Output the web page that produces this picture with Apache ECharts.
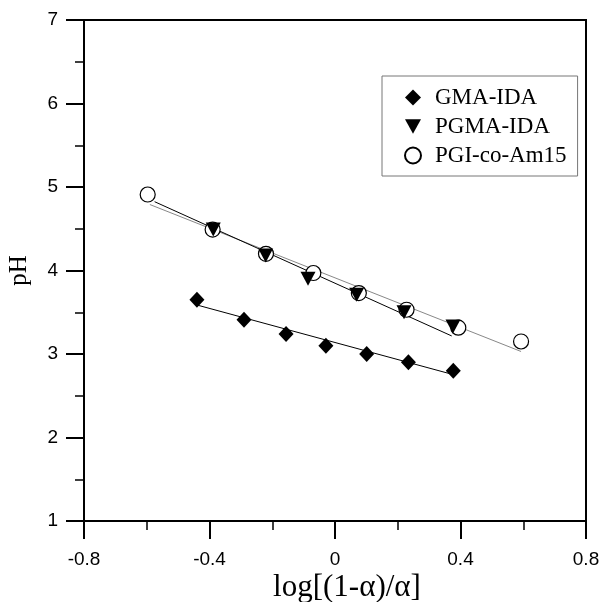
<!DOCTYPE html>
<html>
<head>
<meta charset="utf-8">
<script src="https://cdn.jsdelivr.net/npm/echarts@6/dist/echarts.min.js"></script>
<style>html,body{margin:0;padding:0;background:#fff}#c{width:602px;height:602px}</style>
</head>
<body>
<div id="c"></div>
<script>
var xTicks = [-0.8, -0.4, 0, 0.4, 0.8];
var yTicks = [1, 2, 3, 4, 5, 6, 7];

var gmaX = [-0.44, -0.29, -0.156, -0.029, 0.101, 0.234, 0.377];
var gmaY = [3.65, 3.41, 3.24, 3.10, 3.00, 2.90, 2.80];

var pgmaX = [-0.388, -0.221, -0.086, 0.069, 0.22, 0.376];
var pgmaY = [4.49, 4.18, 3.90, 3.71, 3.50, 3.33];

var pgiX = [-0.597, -0.39, -0.22, -0.069, 0.076, 0.228, 0.393, 0.593];
var pgiY = [4.91, 4.49, 4.20, 3.97, 3.73, 3.53, 3.315, 3.15];

var gmaFitX = [-0.44, 0.38];
var gmaFitY = [3.587, 2.75];
var pgmaFitX = [-0.575, 0.372];
var pgmaFitY = [4.824, 3.216];
var pgiFitX = [-0.59, 0.593];
var pgiFitY = [4.79, 3.03];

function pairs(xs, ys) { return xs.map(function (x, i) { return [x, ys[i]]; }); }

var downTri = 'path://M0,0 L10,0 L5,9 Z';

var chart = echarts.init(document.getElementById('c'));
var axisCommon = {
  axisLine: { show: true, onZero: false, lineStyle: { color: '#000', width: 2 } },
  axisTick: { show: true, inside: false, length: 18, lineStyle: { color: '#000', width: 2 } },
  minorTick: { show: true, splitNumber: 2, length: 9, lineStyle: { color: '#000', width: 1.5 } },
  splitLine: { show: false },
  minorSplitLine: { show: false }
};
chart.setOption({
  animation: false,
  backgroundColor: '#fff',
  grid: { left: 84, right: 16, top: 20, bottom: 81, containLabel: false, outerBoundsMode: 'none',
    show: true, borderColor: '#000', borderWidth: 2, backgroundColor: 'transparent' },
  xAxis: Object.assign({
    type: 'value', min: xTicks[0], max: xTicks[xTicks.length - 1], interval: 0.4,
    name: 'log[(1-α)/α]', nameLocation: 'middle', nameGap: 51, nameMoveOverlap: false,
    nameTextStyle: { fontFamily: 'Liberation Serif', fontSize: 31, color: '#000', padding: [0, 0, 0, 24] },
    axisLabel: { margin: 29, fontFamily: 'Liberation Sans', fontSize: 19, color: '#000',
      formatter: function (v) { return String(Math.round(v * 10) / 10); } }
  }, axisCommon),
  yAxis: Object.assign({
    type: 'value', min: yTicks[0], max: yTicks[yTicks.length - 1], interval: 1,
    name: 'pH', nameLocation: 'middle', nameGap: 52, nameRotate: 90, nameMoveOverlap: false,
    nameTextStyle: { fontFamily: 'Liberation Serif', fontSize: 25, color: '#000' },
    axisLabel: { margin: 26, fontFamily: 'Liberation Sans', fontSize: 19, color: '#000' }
  }, axisCommon),
  legend: {
    orient: 'vertical', left: 382, top: 76,
    padding: [10, 11, 9, 22], itemGap: 6, itemWidth: 16, itemHeight: 16,
    borderColor: '#777', borderWidth: 1,
    textStyle: { fontFamily: 'Liberation Serif', fontSize: 23, color: '#000', padding: [0, 0, 0, 9] },
    data: [
      { name: 'GMA-IDA', icon: 'diamond' },
      { name: 'PGMA-IDA', icon: downTri },
      { name: 'PGI-co-Am15', icon: 'circle' }
    ]
  },
  series: [
    { name: 'fitPGI', type: 'line', symbol: 'none', data: pairs(pgiFitX, pgiFitY), lineStyle: { color: '#888', width: 1 }, z: 1, silent: true },
    { name: 'fitPGMA', type: 'line', symbol: 'none', data: pairs(pgmaFitX, pgmaFitY), lineStyle: { color: '#000', width: 1 }, z: 1, silent: true },
    { name: 'fitGMA', type: 'line', symbol: 'none', data: pairs(gmaFitX, gmaFitY), lineStyle: { color: '#000', width: 1 }, z: 1, silent: true },
    { name: 'PGI-co-Am15', type: 'scatter', symbol: 'circle', symbolSize: 15, data: pairs(pgiX, pgiY),
      itemStyle: { color: '#fff', borderColor: '#000', borderWidth: 1.2, opacity: 1 }, z: 3 },
    { name: 'PGMA-IDA', type: 'scatter', symbol: downTri, symbolSize: [15, 14], data: pairs(pgmaX, pgmaY),
      itemStyle: { color: '#000', opacity: 1 }, z: 4 },
    { name: 'GMA-IDA', type: 'scatter', symbol: 'diamond', symbolSize: [15, 16], data: pairs(gmaX, gmaY),
      itemStyle: { color: '#000', opacity: 1 }, z: 4 }
  ]
});
</script>
</body>
</html>
